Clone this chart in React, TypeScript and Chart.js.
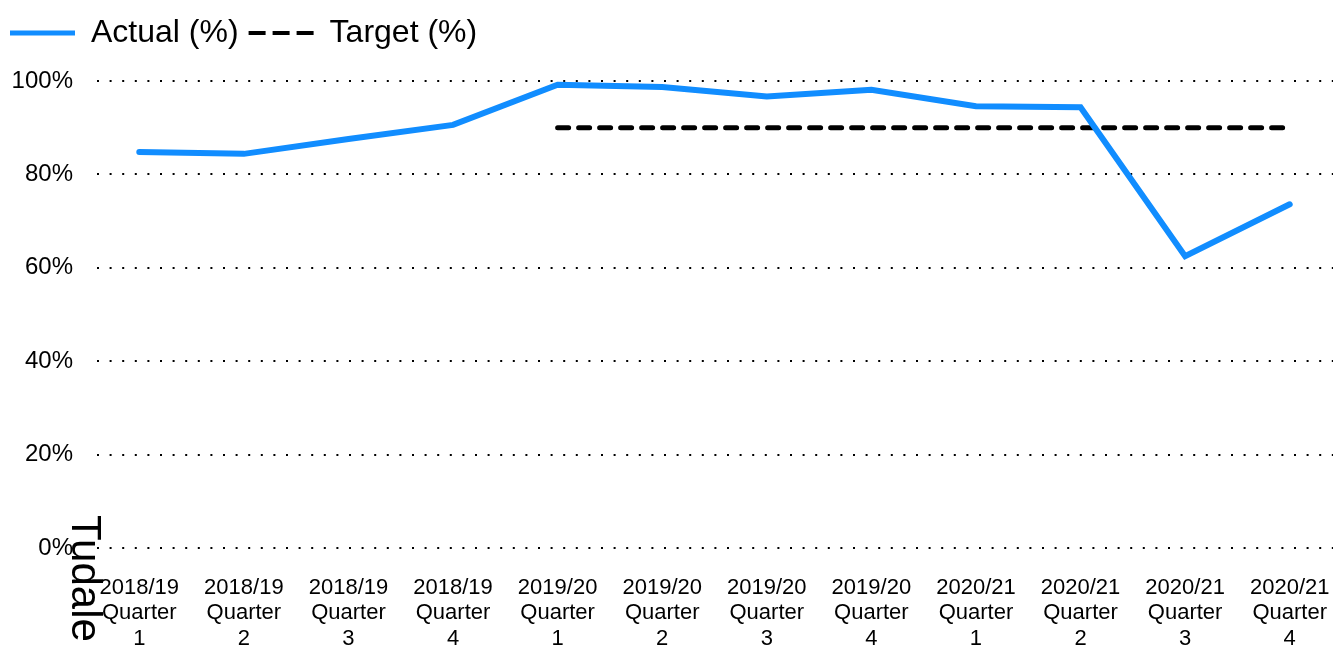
import React, { useEffect, useRef } from "react";
import { Chart, registerables } from "chart.js";

Chart.register(...registerables);

const categories: string[][] = [
  ["2018/19", "Quarter", "1"],
  ["2018/19", "Quarter", "2"],
  ["2018/19", "Quarter", "3"],
  ["2018/19", "Quarter", "4"],
  ["2019/20", "Quarter", "1"],
  ["2019/20", "Quarter", "2"],
  ["2019/20", "Quarter", "3"],
  ["2019/20", "Quarter", "4"],
  ["2020/21", "Quarter", "1"],
  ["2020/21", "Quarter", "2"],
  ["2020/21", "Quarter", "3"],
  ["2020/21", "Quarter", "4"],
];

const actualValues: number[] = [84.8, 84.4, 87.6, 90.6, 99.2, 98.7, 96.7, 98.1, 94.6, 94.4, 62.5, 73.6];
const targetValues: (number | null)[] = [null, null, null, null, 90, 90, 90, 90, 90, 90, 90, 90];
const yTicks: number[] = [0, 20, 40, 60, 80, 100];
const sideLabel = "Tudale";

const FONT = "'Liberation Sans', Arial, Helvetica, sans-serif";
const LEGEND_HEIGHT = 74;

const sideLabelPlugin = {
  id: "sideLabel",
  beforeLayout(chart: any) {
    const lg = chart.legend;
    if (lg && !lg.__patched) {
      const orig = lg.fit.bind(lg);
      lg.fit = function () {
        orig();
        this.height = LEGEND_HEIGHT;
      };
      lg.__patched = true;
    }
  },
  afterDraw(chart: any) {
    const ctx = chart.ctx;
    ctx.save();
    ctx.font = `42px ${FONT}`;
    ctx.fillStyle = "#000";
    ctx.textBaseline = "alphabetic";
    ctx.translate(72, 515);
    ctx.rotate(Math.PI / 2);
    ctx.fillText(sideLabel, 0, 0);
    ctx.restore();
  },
};

export default function App() {
  const ref = useRef<HTMLCanvasElement | null>(null);

  useEffect(() => {
    if (!ref.current) return;
    const chart = new Chart(ref.current, {
      type: "line",
      data: {
        labels: categories,
        datasets: [
          {
            label: "Actual (%)",
            data: actualValues,
            borderColor: "#118DFF",
            backgroundColor: "#118DFF",
            borderWidth: 6,
            pointRadius: 0,
            borderCapStyle: "round",
            borderJoinStyle: "miter",
            tension: 0,
          },
          {
            label: "Target (%)",
            data: targetValues,
            borderColor: "#000000",
            backgroundColor: "#000000",
            borderWidth: 5,
            borderDash: [11, 10],
            borderCapStyle: "round",
            pointRadius: 0,
            tension: 0,
          },
        ],
      },
      options: {
        animation: false,
        responsive: true,
        maintainAspectRatio: false,
        layout: { padding: { top: 7, right: 0, bottom: 0, left: 0 } },
        plugins: {
          tooltip: { enabled: false },
          legend: {
            display: true,
            position: "top",
            align: "start",
            labels: {
              usePointStyle: true,
              pointStyle: "line",
              pointStyleWidth: 65,
              boxHeight: 30,
              color: "#000",
              padding: 10,
              font: { family: FONT, size: 32 },
              generateLabels(chart: any) {
                const items = Chart.defaults.plugins.legend.labels.generateLabels(chart);
                return items.map((it: any, i: number) => ({
                  ...it,
                  pointStyle: "line",
                  lineWidth: i === 0 ? 5 : 4,
                  lineDash: i === 0 ? [] : [17, 7],
                  lineCap: "butt",
                  strokeStyle: i === 0 ? "#118DFF" : "#000000",
                  fillStyle: i === 0 ? "#118DFF" : "#000000",
                }));
              },
            },
          },
        },
        scales: {
          x: {
            type: "category",
            offset: true,
            afterFit(scale: any) {
              scale.height = 97;
              scale.paddingLeft = 0;
              scale.paddingRight = 0;
            },
            grid: { display: false },
            border: { display: false },
            ticks: {
              color: "#000",
              autoSkip: false,
              maxRotation: 0,
              minRotation: 0,
              padding: 19,
              font: { family: FONT, size: 22, lineHeight: 1.16 },
            },
          },
          y: {
            min: 0,
            max: 100,
            afterFit(scale: any) {
              scale.width = 87;
              scale.paddingTop = 0;
              scale.paddingBottom = 0;
            },
            afterBuildTicks(scale: any) {
              scale.ticks = yTicks.map((v) => ({ value: v }));
            },
            grid: {
              color: "#000",
              lineWidth: 2,
              drawTicks: false,
            },
            border: { display: false, dash: [2, 10.6], dashOffset: 2.6 },
            ticks: {
              color: "#000",
              padding: 14,
              font: { family: FONT, size: 24 },
              callback: (v: any) => `${v}%`,
            },
          },
        },
      },
      plugins: [sideLabelPlugin],
    } as any);
    return () => chart.destroy();
  }, []);

  return (
    <div style={{ position: "fixed", left: 0, top: 0, width: 1333, height: 645, overflow: "hidden", background: "#fff" }}>
      <div style={{ position: "relative", width: 1342, height: 645 }}>
        <canvas ref={ref} />
      </div>
    </div>
  );
}
